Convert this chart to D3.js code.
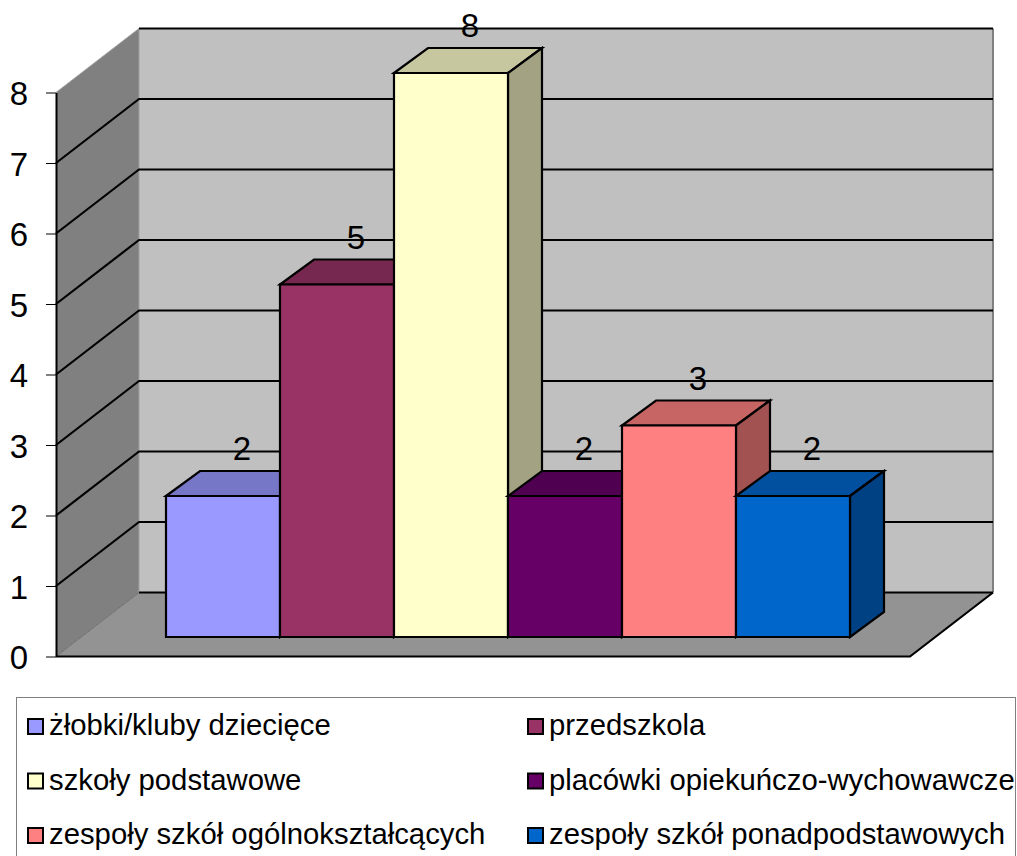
<!DOCTYPE html>
<html>
<head>
<meta charset="utf-8">
<script src="https://cdn.jsdelivr.net/npm/d3@7"></script>
<style>
html, body { margin: 0; padding: 0; background: #fff; overflow: hidden; }
svg { display: block; }
text { font-family: "Liberation Sans", sans-serif; fill: #000; }
</style>
</head>
<body>
<svg id="chart" width="1017" height="856"></svg>
<script>
var categories = ["żłobki/kluby dziecięce", "przedszkola", "szkoły podstawowe",
    "placówki opiekuńczo-wychowawcze", "zespoły szkół ogólnokształcących", "zespoły szkół ponadpodstawowych"];
var values = [2, 5, 8, 2, 3, 2];
var colors = ["#9999ff", "#993366", "#ffffcc", "#660066", "#ff8080", "#0066cc"];
var yTicks = [0, 1, 2, 3, 4, 5, 6, 7, 8];

var svg = d3.select("#chart");

var wallDepth = { x: 83, y: -64 };
var barDepth = { x: 34, y: -25 };
var baseLift = 19.5;

var y = d3.scaleLinear().domain([0, 8]).range([656.5, 92.5]);
var x = d3.scaleBand().domain(categories).range([166, 850]).padding(0);
var left = 56, right = 910;

function poly(pts) { return d3.line()(pts) + "Z"; }
function shade(c, k) {
    var r = d3.rgb(c);
    return d3.rgb(r.r * k, r.g * k, r.b * k).formatHex();
}

// walls and floor
var bx0 = left + wallDepth.x, bx1 = right + wallDepth.x;
var y0 = y(0), yT = y(8);
var dy = wallDepth.y;

svg.append("path").attr("d", poly([[bx0, yT + dy], [bx1, yT + dy], [bx1, y0 + dy], [bx0, y0 + dy]]))
    .attr("fill", "#c0c0c0");
svg.append("path").attr("d", poly([[left, yT], [bx0, yT + dy], [bx0, y0 + dy], [left, y0]]))
    .attr("fill", "#808080");
svg.append("path").attr("d", poly([[left, y0], [bx0, y0 + dy], [bx1, y0 + dy], [right, y0]]))
    .attr("fill", "#939393");

svg.append("line").attr("x1", bx1).attr("x2", bx1).attr("y1", yT + dy).attr("y2", y0 + dy)
    .attr("stroke", "#808080").attr("stroke-width", 2);
svg.append("line").attr("x1", bx0).attr("x2", bx0).attr("y1", yT + dy).attr("y2", y0 + dy)
    .attr("stroke", "#a0a0a0").attr("stroke-width", 1);
svg.append("line").attr("x1", left).attr("x2", bx0).attr("y1", y0).attr("y2", y0 + dy)
    .attr("stroke", "#707070").attr("stroke-width", 1);
svg.append("line").attr("x1", left).attr("x2", bx0).attr("y1", yT).attr("y2", yT + dy)
    .attr("stroke", "#a0a0a0").attr("stroke-width", 1);

// gridlines
yTicks.forEach(function (t) {
    var pts = t == 8 ? [[bx0, y(t) + dy], [bx1, y(t) + dy]]
        : t == 0 ? [[bx0, y(t) + dy], [bx1, y(t) + dy]]
        : [[left, y(t)], [bx0, y(t) + dy], [bx1, y(t) + dy]];
    svg.append("path").attr("d", d3.line()(pts))
        .attr("fill", "none").attr("stroke", "#000").attr("stroke-width", 2.2);
});

// front edge of the floor
svg.append("path").attr("d", d3.line()([[left, y0], [right, y0], [bx1, y0 + dy]]))
    .attr("fill", "none").attr("stroke", "#000").attr("stroke-width", 2.2);

// bars, left to right so the next one hides the side of the last
var bars = svg.selectAll("g.bar").data(categories).enter().append("g").attr("class", "bar");

bars.each(function (d, i) {
    var g = d3.select(this);
    var xa = x(d), xb = xa + x.bandwidth();
    var base = y(0) - baseLift;
    var top = y(values[i]) - baseLift;
    var ddx = barDepth.x, ddy = barDepth.y;
    var stroke = { stroke: "#000", "stroke-width": 2.2, "stroke-linejoin": "miter" };

    function face(pts, fill) {
        var p = g.append("path").attr("d", poly(pts)).attr("fill", fill);
        for (var k in stroke) p.attr(k, stroke[k]);
    }
    face([[xa, top], [xa + ddx, top + ddy], [xb + ddx, top + ddy], [xb, top]], shade(colors[i], 0.78));
    face([[xb, top], [xb + ddx, top + ddy], [xb + ddx, base + ddy], [xb, base]], shade(colors[i], 0.64));
    face([[xa, top], [xb, top], [xb, base], [xa, base]], colors[i]);
});

// value labels
svg.selectAll("text.val").data(values).enter().append("text")
    .attr("class", "val")
    .attr("text-anchor", "middle")
    .attr("font-size", 33)
    .attr("x", function (d, i) { return x(categories[i]) + x.bandwidth() / 2 + 19; })
    .attr("y", function (d) { return y(d) - baseLift - 36; })
    .text(function (d) { return d; });

// y axis
var axis = svg.append("g")
    .attr("transform", "translate(" + left + ",0)")
    .call(d3.axisLeft(y).tickValues(yTicks).tickSize(10).tickPadding(18).tickSizeOuter(0));
axis.select(".domain").attr("stroke", "#000").attr("stroke-width", 2);
axis.selectAll(".tick line").attr("stroke", "#000").attr("stroke-width", 1);
axis.selectAll(".tick text")
    .attr("font-family", "Liberation Sans")
    .attr("font-size", 33)
    .attr("fill", "#000")
    .attr("dy", 12);

// legend, runs off the bottom of the picture
svg.append("rect").attr("x", 16.5).attr("y", 697.5).attr("width", 999).attr("height", 200)
    .attr("fill", "#fff").attr("stroke", "#808080").attr("stroke-width", 1);

var legend = svg.selectAll("g.leg").data(categories).enter().append("g")
    .attr("class", "leg")
    .attr("transform", function (d, i) {
        return "translate(" + (i % 2 ? 527 : 27) + "," + (718 + Math.floor(i / 2) * 54.5) + ")";
    });
legend.append("rect").attr("x", 1).attr("y", 1).attr("width", 15).attr("height", 15)
    .attr("fill", function (d, i) { return colors[i]; })
    .attr("stroke", "#000").attr("stroke-width", 2);
legend.append("text").attr("x", 22).attr("y", 17).attr("font-size", 29.3)
    .text(function (d) { return d; });
</script>
</body>
</html>
